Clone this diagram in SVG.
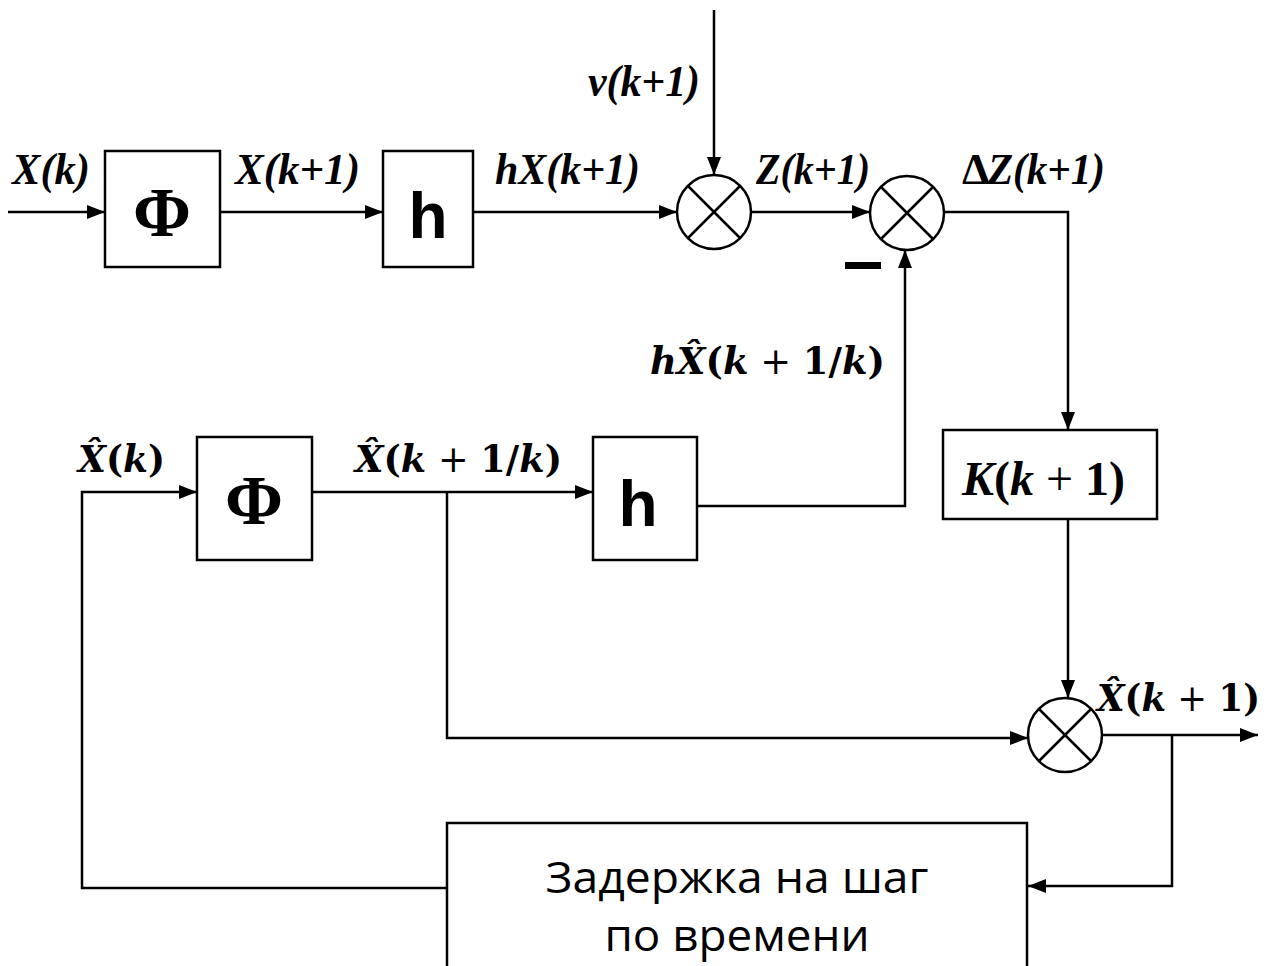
<svg xmlns="http://www.w3.org/2000/svg" width="1270" height="966" viewBox="0 0 1270 966">
<style>
.box{fill:#fff;stroke:#000;stroke-width:2.5}
.ln{fill:none;stroke:#000;stroke-width:2.5}
.lbl{font-family:"Liberation Serif",serif;font-weight:bold;font-style:italic;font-size:44px;fill:#000}
.math{font-family:"DejaVu Serif","Liberation Serif",serif;font-weight:bold;font-size:38px;fill:#000}
.it{font-style:italic}
.up{font-style:normal}
.phi{font-family:"Liberation Serif",serif;font-weight:bold;font-size:70px;text-anchor:middle}
.hh{font-family:"Liberation Sans",sans-serif;font-weight:bold;font-size:64px;text-anchor:middle}
.ru{font-family:"Open Sans","Noto Sans",sans-serif;font-size:44px;text-anchor:middle}
</style>
<defs>
<marker id="arr" markerWidth="18" markerHeight="14" refX="18" refY="7" orient="auto" markerUnits="userSpaceOnUse">
<path d="M0,0 L18,7 L0,14 Z" fill="#000"/>
</marker>
</defs>
<g id="connectors" class="ln">
<line x1="8" y1="212" x2="105" y2="212" marker-end="url(#arr)"/>
<line x1="220" y1="212" x2="383" y2="212" marker-end="url(#arr)"/>
<line x1="473" y1="212" x2="677" y2="212" marker-end="url(#arr)"/>
<line x1="714" y1="10" x2="714" y2="175" marker-end="url(#arr)"/>
<line x1="751" y1="212" x2="870" y2="212" marker-end="url(#arr)"/>
<polyline points="944,212 1068,212 1068,430" marker-end="url(#arr)"/>
<line x1="1068" y1="519" x2="1068" y2="698" marker-end="url(#arr)"/>
<line x1="1103" y1="735" x2="1258" y2="735" marker-end="url(#arr)"/>
<polyline points="1172,735 1172,886 1028,886" marker-end="url(#arr)"/>
<polyline points="447,888 82,888 82,492 197,492" marker-end="url(#arr)"/>
<line x1="312" y1="492" x2="593" y2="492" marker-end="url(#arr)"/>
<polyline points="447,492 447,738 1028,738" marker-end="url(#arr)"/>
<polyline points="697,506 905,506 905,250" marker-end="url(#arr)"/>
<rect x="845" y="262" width="36" height="7" fill="#000" stroke="none"/>
</g>
<g id="phi1"><rect class="box" x="105" y="151" width="115" height="116"/><text class="phi" x="162" y="236">Φ</text></g>
<g id="h1"><rect class="box" x="383" y="151" width="90" height="116"/><text class="hh" x="428" y="238">h</text></g>
<g id="sum1" class="ln"><circle cx="714" cy="212" r="37"/><line x1="688" y1="186" x2="740" y2="238"/><line x1="740" y1="186" x2="688" y2="238"/></g>
<g id="sum2" class="ln"><circle cx="907" cy="213" r="37"/><line x1="881" y1="187" x2="933" y2="239"/><line x1="933" y1="187" x2="881" y2="239"/></g>
<g id="sum3" class="ln"><circle cx="1065" cy="735" r="37"/><line x1="1039" y1="709" x2="1091" y2="761"/><line x1="1091" y1="709" x2="1039" y2="761"/></g>
<g id="K"><rect class="box" x="943" y="430" width="214" height="89"/>
<text class="lbl" x="962" y="495" style="font-size:48px" textLength="163" lengthAdjust="spacingAndGlyphs">K<tspan class="up">(</tspan>k<tspan class="up" font-weight="normal"> + </tspan><tspan class="up">1)</tspan></text></g>
<g id="phi2"><rect class="box" x="197" y="437" width="115" height="123"/><text class="phi" x="254" y="524">Φ</text></g>
<g id="h2"><rect class="box" x="593" y="437" width="104" height="123"/><text class="hh" x="638" y="526">h</text></g>
<g id="delay"><rect class="box" x="447" y="823" width="580" height="160"/>
<text class="ru" x="737" y="893" textLength="383" lengthAdjust="spacingAndGlyphs">Задержка на шаг</text>
<text class="ru" x="737" y="951" textLength="265" lengthAdjust="spacingAndGlyphs">по времени</text></g>
<g id="labels">
<text class="lbl" x="12" y="184" textLength="78" lengthAdjust="spacingAndGlyphs">X(k)</text>
<text class="lbl" x="235" y="184" textLength="125" lengthAdjust="spacingAndGlyphs">X(k+1)</text>
<text class="lbl" x="495" y="184" textLength="145" lengthAdjust="spacingAndGlyphs">hX(k+1)</text>
<text class="lbl" x="588" y="96" textLength="112" lengthAdjust="spacingAndGlyphs">v(k+1)</text>
<text class="lbl" x="756" y="184" textLength="114" lengthAdjust="spacingAndGlyphs">Z(k+1)</text>
<text class="lbl" x="962" y="184" style="font-style:normal">Δ</text>
<text class="lbl" x="988" y="184" textLength="117" lengthAdjust="spacingAndGlyphs">Z(k+1)</text>
<text class="math" x="650" y="374" textLength="235" lengthAdjust="spacingAndGlyphs"><tspan class="it">hX̂</tspan>(<tspan class="it">k</tspan><tspan font-weight="normal"> + </tspan>1/<tspan class="it">k</tspan>)</text>
<text class="math" x="78" y="472" textLength="87" lengthAdjust="spacingAndGlyphs"><tspan class="it">X̂</tspan>(<tspan class="it">k</tspan>)</text>
<text class="math" x="355" y="472" textLength="207" lengthAdjust="spacingAndGlyphs"><tspan class="it">X̂</tspan>(<tspan class="it">k</tspan><tspan font-weight="normal"> + </tspan>1/<tspan class="it">k</tspan>)</text>
<text class="math" x="1097" y="711" textLength="163" lengthAdjust="spacingAndGlyphs"><tspan class="it">X̂</tspan>(<tspan class="it">k</tspan><tspan font-weight="normal"> + </tspan>1)</text>
</g>
</svg>
